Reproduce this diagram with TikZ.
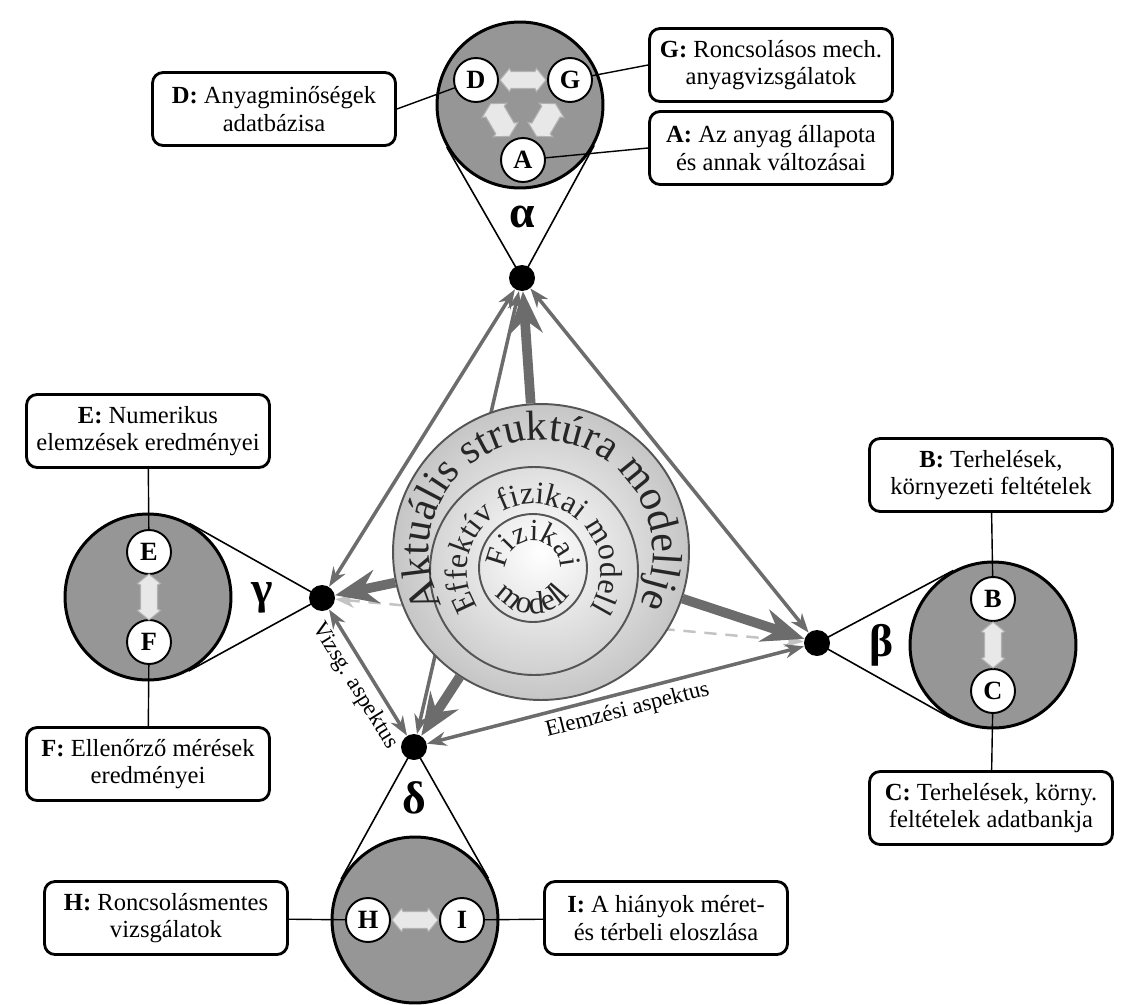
\documentclass[tikz,border=0pt]{standalone}
\usepackage{fontspec}
\setmainfont{Liberation Serif}
\usetikzlibrary{arrows.meta,calc,decorations.text}

\definecolor{edgegray}{RGB}{108,108,108}
\definecolor{lensgray}{RGB}{150,150,150}
\definecolor{dashgray}{RGB}{195,195,195}
\definecolor{ringgray}{RGB}{85,85,85}

\tikzset{
  thintip/.tip={Stealth[length=11pt,width=8pt,inset=3.5pt]},
  fattip/.tip={Stealth[length=24pt,width=19pt,inset=8pt]},
  swapbar/.pic={
    \draw[draw=gray!60,fill=gray!18,line width=0.6pt]
      (-0.46cm,0) -- (-0.27cm,0.23cm) -- (-0.24cm,0.17cm) -- (0.24cm,0.17cm) -- (0.27cm,0.23cm)
      -- (0.46cm,0) -- (0.27cm,-0.23cm) -- (0.24cm,-0.17cm) -- (-0.24cm,-0.17cm) -- (-0.27cm,-0.23cm) -- cycle;
  }
}

\begin{document}
\begin{tikzpicture}[x=0.02cm,y=-0.02cm,
    vdot/.style={circle,fill=black,minimum size=0.52cm,inner sep=0pt},
    lens/.style={circle,draw,line width=1.7pt,fill=lensgray,minimum size=3.32cm,inner sep=0pt},
    lettercirc/.style={circle,draw,fill=white,line width=1.1pt,minimum size=0.88cm,inner sep=0pt,font=\bfseries\fontsize{15}{15}\selectfont},
    infobox/.style={draw,fill=white,line width=1.6pt,rounded corners=6pt,align=center,minimum width=4.86cm,minimum height=1.46cm,inner sep=2pt,font=\fontsize{14}{15.5}\selectfont},
    glabel/.style={font=\bfseries\fontsize{26}{26}\selectfont},
    thinedge/.style={draw=edgegray,line width=2pt,thintip-thintip},
    hidedge/.style={draw=dashgray,line width=1.4pt,dash pattern=on 7pt off 5pt,thintip-thintip},
    fatarrow/.style={draw=edgegray,line width=5.5pt,-fattip},
    conn/.style={line width=0.8pt},
    lensline/.style={line width=0.9pt},
    aspectlabel/.style={font=\fontsize{13}{13}\selectfont},
    ring/.style={draw=ringgray,line width=1.1pt}
  ]
  \useasboundingbox (0,0) rectangle (1129,1004);

  % Vertices
  \node[vdot] (adot) at (522,278) {};
  \node[vdot] (bdot) at (817,643) {};
  \node[vdot] (gdot) at (322,598) {};
  \node[vdot] (ddot) at (414,747) {};

  % Edges behind the sphere
  \draw[thinedge] (adot) -- (ddot);
  \draw[hidedge] (gdot) -- (bdot);

  % Sphere
  \node[circle,minimum size=5.92cm,ring,inner color=white,outer color=gray!45] (sphere) at (541,552) {};
  \draw[ring] (534,571) circle[radius=104];
  \draw[ring] (533,568) circle[radius=54];
  \begin{scope}[shift={(541,552)},y=0.02cm]
    \path[decorate,decoration={text along path,text align=center,text color=black!85,
      text={|\fontsize{24}{24}\selectfont|Aktuális struktúra modellje}}]
      (215:112) arc[start angle=215,end angle=-35,radius=112];
  \end{scope}
  \begin{scope}[shift={(534,571)},y=0.02cm]
    \path[decorate,decoration={text along path,text align=center,text color=black!85,
      text={|\fontsize{18}{18}\selectfont|Effektív fizikai modell}}]
      (218:67) arc[start angle=218,end angle=-38,radius=67];
  \end{scope}
  \begin{scope}[shift={(533,568)},y=0.02cm]
    \path[decorate,decoration={text along path,text align=center,text color=black!85,
      text={|\fontsize{17.5}{17.5}\selectfont|Fizikai}}]
      (195:27) arc[start angle=195,end angle=-15,radius=27];
    \path[decorate,decoration={text along path,text align=center,text color=black!85,
      text={|\fontsize{18}{18}\selectfont|modell}}]
      (200:46) arc[start angle=200,end angle=340,radius=46];
  \end{scope}

  % Sphere to vertices
  \foreach \v in {adot,bdot,gdot,ddot}
    \draw[fatarrow] (sphere) -- (\v);

  % Visible edges
  \draw[thinedge] (adot) -- (bdot);
  \draw[thinedge] (adot) -- (gdot);
  \draw[thinedge] (gdot) -- node[aspectlabel,pos=0.53,sloped,below] {Vizsg. aspektus} (ddot);
  \draw[thinedge] (ddot) -- node[aspectlabel,pos=0.52,sloped,below] {Elemzési aspektus} (bdot);

  % Lenses
  \node[lens] (acirc) at (520,105) {};
  \node[lens] (bcirc) at (993,645) {};
  \node[lens] (gcirc) at (148,597) {};
  \node[lens] (dcirc) at (415,920) {};
  \foreach \d/\c in {adot/acirc,bdot/bcirc,gdot/gcirc,ddot/dcirc} {
    \draw[lensline] (\d.center) -- (tangent cs:node=\c,point={(\d.center)},solution=1);
    \draw[lensline] (\d.center) -- (tangent cs:node=\c,point={(\d.center)},solution=2);
  }

  % Greek labels
  \node[glabel] (alabel) at (522,217) {α};
  \node[glabel] (blabel) at (882,645) {β};
  \node[glabel] (glabel) at (262,598) {γ};
  \node[glabel] (dlabel) at (414,798) {δ};

  % Boxes
  \node[infobox] (dbox) at (274,109) {\textbf{D:} Anyagminőségek\\adatbázisa};
  \node[infobox] (gbox) at (771,65) {\textbf{G:} Roncsolásos mech.\\anyagvizsgálatok};
  \node[infobox] (abox) at (771,148) {\textbf{A:} Az anyag állapota\\és annak változásai};
  \node[infobox] (ebox) at (148,431) {\textbf{E:} Numerikus\\elemzések eredményei};
  \node[infobox] (fbox) at (148,764) {\textbf{F:} Ellenőrző mérések\\eredményei};
  \node[infobox] (bbox) at (991,475) {\textbf{B:} Terhelések,\\környezeti feltételek};
  \node[infobox] (cbox) at (991,808) {\textbf{C:} Terhelések, körny.\\feltételek adatbankja};
  \node[infobox] (hbox) at (166,918) {\textbf{H:} Roncsolásmentes\\vizsgálatok};
  \node[infobox] (ibox) at (666,918) {\textbf{I:} A hiányok méret-\\és térbeli eloszlása};

  % Letters
  \coordinate (dpos) at (476,80);
  \coordinate (gpos) at (570,80);
  \coordinate (apos) at (523,160);
  \draw[conn] (dbox.east) -- (dpos);
  \draw[conn] (gpos) -- (gbox.west);
  \draw[conn] (apos) -- (abox.west);
  \draw[conn] (ebox) -- (149,552);
  \draw[conn] (149,642) -- (fbox);
  \draw[conn] (bbox) -- (993,599);
  \draw[conn] (993,691) -- (cbox);
  \draw[conn] (hbox) -- (368,920);
  \draw[conn] (462,920) -- (ibox);

  \node[lettercirc] (dlet) at (dpos) {D};
  \node[lettercirc] (glet) at (gpos) {G};
  \node[lettercirc] (alet) at (apos) {A};
  \node[lettercirc] (elet) at (149,552) {E};
  \node[lettercirc] (flet) at (149,642) {F};
  \node[lettercirc] (blet) at (993,599) {B};
  \node[lettercirc] (clet) at (993,691) {C};
  \node[lettercirc] (hlet) at (368,920) {H};
  \node[lettercirc] (ilet) at (462,920) {I};

  % Exchange arrows
  \pic (dgswap) at (523,80) {swapbar};
  \pic[rotate=-59.6,xscale=0.82,yscale=1.25] (daswap) at (500,120) {swapbar};
  \pic[rotate=59.6,xscale=0.82,yscale=1.25] (gaswap) at (546,120) {swapbar};
  \pic[rotate=90] (efswap) at (149,597) {swapbar};
  \pic[rotate=90] (bcswap) at (993,645) {swapbar};
  \pic (hiswap) at (415,920) {swapbar};
\end{tikzpicture}
\end{document}
